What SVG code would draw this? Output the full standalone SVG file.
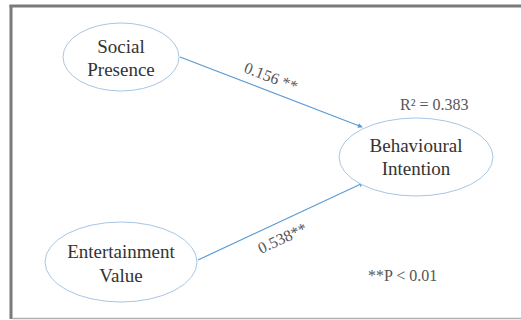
<svg xmlns="http://www.w3.org/2000/svg" width="521" height="320" viewBox="0 0 521 320">
<style>
.node ellipse{fill:#fff;stroke:#a8c6e4;stroke-width:1}
.lbl{font-family:"Liberation Serif","Times New Roman",serif;font-size:19px;fill:#333;text-anchor:middle}
.note{font-family:"Liberation Serif","Times New Roman",serif;font-size:16px;fill:#555}
.conn{stroke:#5b9bd5;stroke-width:1.2;fill:none;marker-end:url(#ah)}
</style>
<defs>
<marker id="ah" viewBox="0 0 6 6" refX="5" refY="3" markerWidth="5" markerHeight="5" orient="auto" markerUnits="userSpaceOnUse">
<path d="M0,0 L6,3 L0,6 z" fill="#5b9bd5"/>
</marker>
</defs>
<rect x="0" y="0" width="521" height="320" fill="#fff"/>
<g id="frame">
<line x1="11" y1="5" x2="11" y2="319" stroke="#7a7a7a" stroke-width="3"/>
<line x1="9.5" y1="6" x2="521" y2="6" stroke="#7a7a7a" stroke-width="3"/>
<line x1="12" y1="318.5" x2="521" y2="318.5" stroke="#b0b0b0" stroke-width="1.5"/>
</g>
<g id="connectors">
<line class="conn" x1="180" y1="57" x2="362" y2="127"/>
<line class="conn" x1="198" y1="260" x2="363" y2="183"/>
<text class="note" transform="translate(243 72) rotate(21)">0.156 **</text>
<text class="note" transform="translate(261 254) rotate(-25)">0.538**</text>
</g>
<g id="social-presence" class="node">
<ellipse cx="121" cy="57" rx="58" ry="34"/>
<text class="lbl" x="121" y="53">Social</text>
<text class="lbl" x="121" y="76">Presence</text>
</g>
<g id="entertainment-value" class="node">
<ellipse cx="121" cy="262" rx="76" ry="40"/>
<text class="lbl" x="121" y="258">Entertainment</text>
<text class="lbl" x="121" y="282">Value</text>
</g>
<g id="behavioural-intention" class="node">
<ellipse cx="416" cy="157" rx="77" ry="39"/>
<text class="lbl" x="416" y="152">Behavioural</text>
<text class="lbl" x="416" y="175">Intention</text>
</g>
<text class="note" x="400" y="110">R² = 0.383</text>
<text class="note" x="368" y="281">**P &lt; 0.01</text>
</svg>
